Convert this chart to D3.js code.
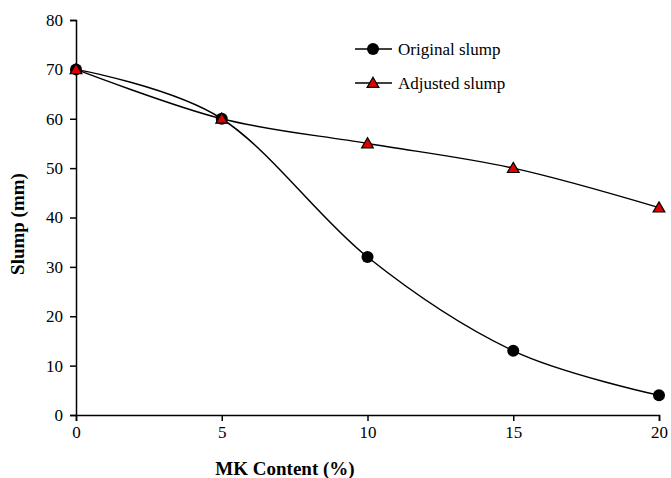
<!DOCTYPE html>
<html>
<head>
<meta charset="utf-8">
<script src="https://cdn.jsdelivr.net/npm/d3@7"></script>
<style>
  body { margin: 0; background: #fff; }
  svg text { font-family: "Liberation Serif", "Times New Roman", "DejaVu Serif", serif; }
</style>
</head>
<body>
<svg id="chart" width="671" height="478"></svg>
<script>
// data
var mkContent = [0, 5, 10, 15, 20];
var originalSlump = [70, 60, 32, 13, 4];
var adjustedSlump = [70, 60, 55, 50, 42];
var xTicks = [0, 5, 10, 15, 20];
var yTicks = [0, 10, 20, 30, 40, 50, 60, 70, 80];
var seriesNames = ["Original slump", "Adjusted slump"];

var serif = "'Liberation Serif', 'Times New Roman', serif";
var svg = d3.select("#chart");
var margin = {top: 20, right: 12, bottom: 63, left: 76};
var width = +svg.attr("width") - margin.left - margin.right;
var height = +svg.attr("height") - margin.top - margin.bottom;
var g = svg.append("g").attr("transform", "translate(" + margin.left + "," + margin.top + ")");

var x = d3.scaleLinear().domain([0, 20]).range([0, width]);
var y = d3.scaleLinear().domain([0, 80]).range([height, 0]);

var xAxis = g.append("g")
  .attr("transform", "translate(0," + height + ")")
  .call(d3.axisBottom(x).tickValues(xTicks).tickSize(6).tickPadding(5));
var yAxis = g.append("g")
  .call(d3.axisLeft(y).tickValues(yTicks).tickSize(6).tickPadding(7));

[xAxis, yAxis].forEach(function(a) {
  a.attr("font-family", serif);
  a.select(".domain").attr("stroke", "#000").attr("stroke-width", 1.5);
  a.selectAll(".tick line").attr("stroke", "#000").attr("stroke-width", 1.5);
  a.selectAll(".tick text").attr("fill", "#000").style("font-size", "17px")
    .style("font-family", serif);
});

var line = d3.line()
  .x(function(d) { return x(d[0]); })
  .y(function(d) { return y(d[1]); })
  .curve(d3.curveCardinal.tension(0));

var orig = mkContent.map(function(v, i) { return [v, originalSlump[i]]; });
var adj = mkContent.map(function(v, i) { return [v, adjustedSlump[i]]; });

g.append("path").datum(orig).attr("d", line)
  .attr("fill", "none").attr("stroke", "#000").attr("stroke-width", 1.5);
g.append("path").datum(adj).attr("d", line)
  .attr("fill", "none").attr("stroke", "#000").attr("stroke-width", 1.5);

var tri = d3.symbol().type(d3.symbolTriangle).size(60);

g.selectAll(".dot").data(orig).enter().append("circle")
  .attr("cx", function(d) { return x(d[0]); })
  .attr("cy", function(d) { return y(d[1]); })
  .attr("r", 6).attr("fill", "#000");

g.selectAll(".tri").data(adj).enter().append("path")
  .attr("d", tri)
  .attr("transform", function(d) { return "translate(" + x(d[0]) + "," + (y(d[1]) + 1) + ")"; })
  .attr("fill", "#e00000").attr("stroke", "#000").attr("stroke-width", 1.2);

// legend
var legend = svg.append("g");
seriesNames.forEach(function(name, i) {
  var ly = 49 + i * 34;
  legend.append("line").attr("x1", 355).attr("x2", 392).attr("y1", ly).attr("y2", ly)
    .attr("stroke", "#000").attr("stroke-width", 1.5);
  if (i === 0) {
    legend.append("circle").attr("cx", 373).attr("cy", ly).attr("r", 6).attr("fill", "#000");
  } else {
    legend.append("path").attr("d", tri).attr("transform", "translate(373," + (ly + 1) + ")")
      .attr("fill", "#e00000").attr("stroke", "#000").attr("stroke-width", 1.2);
  }
  legend.append("text").attr("x", 398).attr("y", ly + 6).style("font-size", "17px")
    .style("font-family", serif).attr("fill", "#000").text(name);
});

// axis titles
svg.append("text")
  .attr("transform", "translate(24,224) rotate(-90)")
  .attr("text-anchor", "middle").style("font-size", "19px").style("font-weight", "bold")
  .style("font-family", serif)
  .text("Slump (mm)");
svg.append("text")
  .attr("x", 285).attr("y", 475)
  .attr("text-anchor", "middle").style("font-size", "19px").style("font-weight", "bold")
  .style("font-family", serif)
  .text("MK Content (%)");
</script>
</body>
</html>
